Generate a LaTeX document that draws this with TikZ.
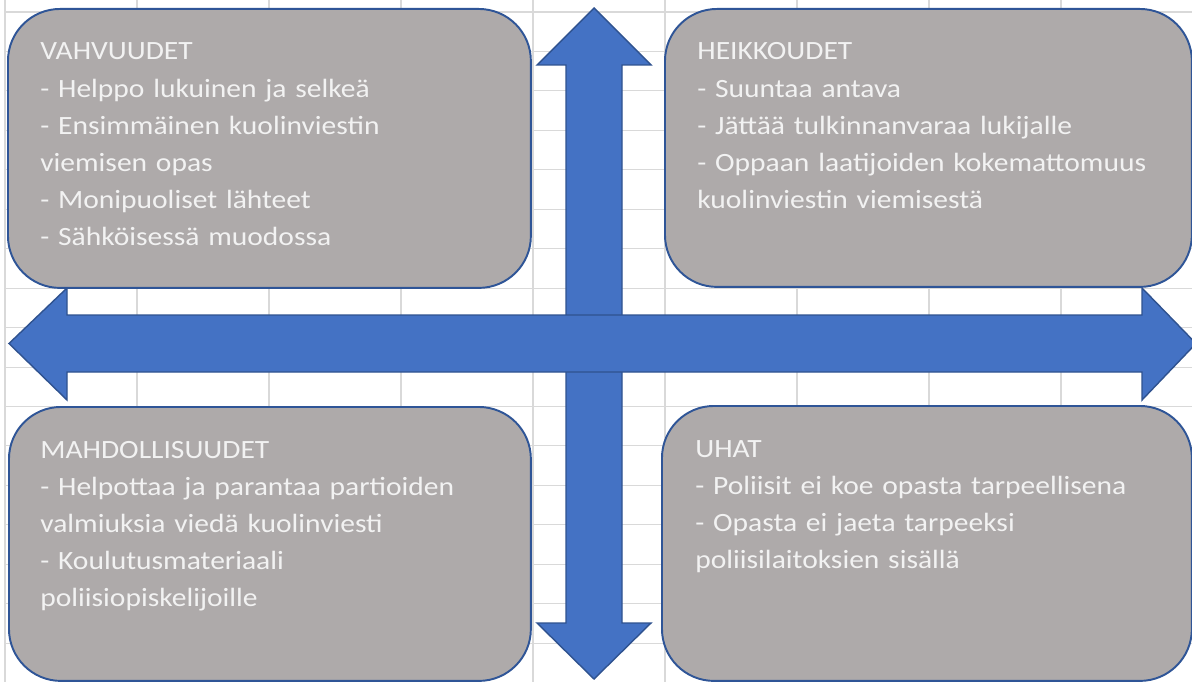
\documentclass[tikz,border=0pt]{standalone}
\usepackage{fontspec}
\setmainfont{Carlito}[FakeStretch=1.12]
\definecolor{arrowblue}{HTML}{4472C4}
\definecolor{arrowedge}{HTML}{2F528F}
\definecolor{boxgray}{HTML}{AEAAAA}
\definecolor{boxedge}{HTML}{2F5597}
\definecolor{gridgray}{HTML}{D9D9D9}
\definecolor{textwhite}{HTML}{F2F2F2}
\begin{document}
\begin{tikzpicture}[x=0.02cm, y=-0.02cm,
  grid/.style={draw=gridgray, line width=0.6pt},
  bigarrow/.style={fill=arrowblue, draw=arrowedge, line width=0.8pt, line join=miter},
  box/.style={draw=boxedge, fill=boxgray, line width=1.1pt, rounded corners=1.04cm, anchor=north west, inner sep=0pt},
  txt/.style={anchor=base west, align=left, text width=9.6cm, inner sep=0pt, text=textwhite, font=\fontsize{15}{21.1}\selectfont}]
\clip (0,0) rectangle (1192,682);
\fill[white] (0,0) rectangle (1192,682);
% spreadsheet grid
\foreach \gx in {5,137,...,1193}
  \draw[grid] (\gx,0) -- (\gx,682);
\foreach \k in {0,...,17}
  \draw[grid] (5,{12+39.45*\k}) -- (1192,{12+39.45*\k});

% vertical double arrow
\draw[bigarrow] (594,8) -- (651,65) -- (622,65) -- (622,623) -- (651,623) -- (594,679)
  -- (537,623) -- (566,623) -- (566,65) -- (537,65) -- cycle;
% horizontal double arrow
\draw[bigarrow] (9,343.5) -- (67,288) -- (67,315) -- (1142,315) -- (1142,288) -- (1196,343.5)
  -- (1142,400) -- (1142,372) -- (67,372) -- (67,400) -- cycle;

\node[box, minimum width=10.46cm, minimum height=5.58cm] (vahv) at (7,8) {};
\node[box, minimum width=10.54cm, minimum height=5.56cm] (heik) at (664,8) {};
\node[box, minimum width=10.44cm, minimum height=5.48cm] (mahd) at (8,406) {};
\node[box, minimum width=10.60cm, minimum height=5.50cm] (uhat) at (661,405) {};

\node[txt] (vahvtext) at (40,60) {VAHVUUDET\\- Helppo lukuinen ja selke\"a\\- Ensimm\"ainen kuolinviestin\\viemisen opas\\- Monipuoliset l\"ahteet\\- S\"ahk\"oisess\"a muodossa};
\node[txt] (heiktext) at (697,60) {HEIKKOUDET\\- Suuntaa antava\\- J\"att\"a\"a tulkinnanvaraa lukijalle\\- Oppaan laatijoiden kokemattomuus\\kuolinviestin viemisest\"a};
\node[txt] (mahdtext) at (40,458) {MAHDOLLISUUDET\\- Helpottaa ja parantaa partioiden\\valmiuksia vied\"a kuolinviesti\\- Koulutusmateriaali\\poliisiopiskelijoille};
\node[txt] (uhattext) at (695,457) {UHAT\\- Poliisit ei koe opasta tarpeellisena\\- Opasta ei jaeta tarpeeksi\\poliisilaitoksien sis\"all\"a};
\end{tikzpicture}
\end{document}
